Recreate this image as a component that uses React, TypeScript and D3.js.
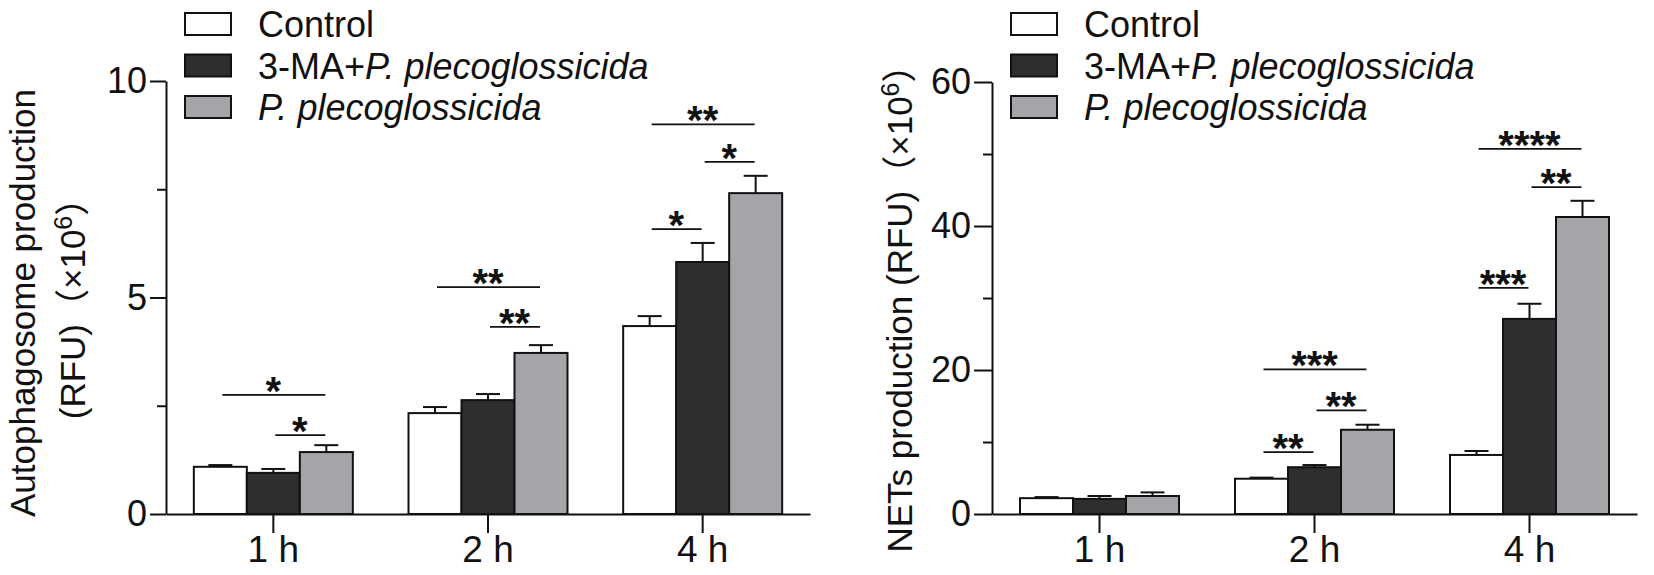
import React, {useRef, useEffect} from 'react'
import * as d3 from 'd3'

// categories and series
const timePoints = ['1 h', '2 h', '4 h']
const seriesNames = ['Control', '3-MA+P. plecoglossicida', 'P. plecoglossicida']

// Autophagosome production (RFU, x10^6), per series across time points
const autoControl = [1.09, 2.33, 4.34]
const autoMA = [0.95, 2.63, 5.82]
const autoPP = [1.43, 3.72, 7.41]
const autoControlErr = [0.04, 0.14, 0.23]
const autoMAErr = [0.09, 0.14, 0.44]
const autoPPErr = [0.16, 0.18, 0.4]

// NETs production (RFU, x10^6)
const netsControl = [2.2, 4.9, 8.2]
const netsMA = [2.1, 6.5, 27.1]
const netsPP = [2.5, 11.7, 41.25]
const netsControlErr = [0.15, 0.15, 0.55]
const netsMAErr = [0.4, 0.3, 2.1]
const netsPPErr = [0.5, 0.7, 2.25]

// significance brackets: [time index, series from, series to, level, label]
const autoSig: [number, number, number, number, string][] = [
  [0, 0, 2, 2.75, '*'],
  [0, 1, 2, 1.82, '*'],
  [1, 0, 2, 5.24, '**'],
  [1, 1, 2, 4.32, '**'],
  [2, 0, 2, 9.0, '**'],
  [2, 1, 2, 8.13, '*'],
  [2, 0, 1, 6.58, '*'],
]
const netsSig: [number, number, number, number, string][] = [
  [1, 0, 2, 20.1, '***'],
  [1, 1, 2, 14.4, '**'],
  [1, 0, 1, 8.6, '**'],
  [2, 0, 2, 50.7, '****'],
  [2, 1, 2, 45.4, '**'],
  [2, 0, 1, 31.4, '***'],
]

const autoTicks = [0, 5, 10]
const autoMinor = [2.5, 7.5]
const netsTicks = [0, 20, 40, 60]
const netsMinor = [10, 30, 50]

const FONT = "'Liberation Sans', Arial, 'Noto Sans CJK SC', sans-serif"
const fills = ['#ffffff', '#2e2e2e', '#a5a5a9']

function drawPanel(svg: any, o: any) {
  const g = svg.append('g')
  const x = d3.scaleBand().domain(timePoints).range([o.x0, o.x1]).paddingInner(0).paddingOuter(0)
  const y = d3.scaleLinear().domain(o.domain).range([o.yBottom, o.yTop])
  const barW = 53
  const inner = d3.scaleBand().domain(seriesNames).range([-barW * 1.5, barW * 1.5])
  const cx = (t: number, s: number) =>
    (x(timePoints[t]) as number) + x.bandwidth() / 2 + (inner(seriesNames[s]) as number) + barW / 2

  // bars
  o.means.forEach((vals: number[], s: number) => {
    vals.forEach((v, t) => {
      const left = cx(t, s) - barW / 2
      g.append('rect')
        .attr('x', left)
        .attr('y', y(v))
        .attr('width', barW)
        .attr('height', y(0) - y(v))
        .attr('fill', fills[s])
        .attr('stroke', '#111')
        .attr('stroke-width', 2)
      // error bar (upper only)
      const top = y(v + o.errs[s][t])
      g.append('line')
        .attr('x1', cx(t, s)).attr('x2', cx(t, s))
        .attr('y1', y(v)).attr('y2', top)
        .attr('stroke', '#111').attr('stroke-width', 2)
      g.append('line')
        .attr('x1', cx(t, s) - 12).attr('x2', cx(t, s) + 12)
        .attr('y1', top).attr('y2', top)
        .attr('stroke', '#111').attr('stroke-width', 2)
    })
  })

  // y axis
  const yAxis = g.append('g')
    .attr('transform', `translate(${o.x0},0)`)
    .call(d3.axisLeft(y).tickValues(o.ticks).tickSize(o.tickLen).tickSizeOuter(0).tickPadding(3))
  yAxis.selectAll('text').attr('font-size', 36).attr('font-family', FONT).attr('fill', '#111')
  g.append('g')
    .attr('transform', `translate(${o.x0},0)`)
    .call(d3.axisLeft(y).tickValues(o.minor).tickSize(9).tickFormat(() => ''))
    .select('.domain').remove()

  // x axis
  const xAxis = g.append('g')
    .attr('transform', `translate(0,${o.yBottom})`)
    .call(d3.axisBottom(x).tickSize(19).tickSizeOuter(0).tickPadding(3))
  xAxis.selectAll('text').attr('font-size', 37).attr('font-family', FONT).attr('fill', '#111')

  g.selectAll('.domain, .tick line').attr('stroke', '#111').attr('stroke-width', 2)

  // significance brackets
  o.sigs.forEach(([t, a, b, lvl, lab]: any) => {
    const ly = y(lvl)
    g.append('line')
      .attr('x1', cx(t, a) + 2).attr('x2', cx(t, b) - 1)
      .attr('y1', ly).attr('y2', ly)
      .attr('stroke', '#111').attr('stroke-width', 1.8)
    g.append('text')
      .attr('x', (cx(t, a) + cx(t, b)) / 2)
      .attr('y', ly + 10)
      .attr('text-anchor', 'middle')
      .attr('font-family', FONT)
      .attr('font-size', 40)
      .attr('font-weight', 'bold')
      .attr('fill', '#111')
      .text(lab)
  })

  // legend
  const lg = g.append('g').attr('transform', `translate(${o.x0 + 19},0)`)
  seriesNames.forEach((name, i) => {
    const rowTop = 13 + i * 41.5
    lg.append('rect')
      .attr('x', 0).attr('y', rowTop)
      .attr('width', 46).attr('height', 22)
      .attr('fill', fills[i]).attr('stroke', '#111').attr('stroke-width', 2)
    const tx = lg.append('text')
      .attr('x', 73).attr('y', rowTop + 24)
      .attr('font-family', FONT).attr('font-size', 36).attr('fill', '#111')
    if (name.startsWith('3-MA+')) {
      tx.append('tspan').text('3-MA+')
      tx.append('tspan').attr('font-style', 'italic').text(name.slice(5))
    } else if (name.startsWith('P.')) {
      tx.append('tspan').attr('font-style', 'italic').text(name)
    } else {
      tx.text(name)
    }
  })

  // y title
  o.titles.forEach((tl: any) => {
    const t = g.append('text')
      .attr('transform', `translate(${tl.x},${tl.y}) rotate(-90)`)
      .attr('text-anchor', 'middle')
      .attr('font-family', FONT)
      .attr('font-size', 35)
      .attr('fill', '#111')
    t.append('tspan').text(tl.main)
    if (tl.sup) {
      t.append('tspan').text('（×10')
      t.append('tspan').attr('font-size', 25).attr('dy', -13).text('6')
      t.append('tspan').attr('dy', 13).text('）')
    }
  })
}

export default function App() {
  const ref: any = useRef<SVGSVGElement>(null)
  useEffect(() => {
    const svg = d3.select(ref.current)
    svg.selectAll('*').remove()
    drawPanel(svg, {
      x0: 166, x1: 810, yBottom: 514, yTop: 81,
      domain: [0, 10], ticks: autoTicks, minor: autoMinor, tickLen: 16,
      means: [autoControl, autoMA, autoPP],
      errs: [autoControlErr, autoMAErr, autoPPErr],
      sigs: autoSig,
      titles: [
        {x: 35, y: 303, main: 'Autophagosome production'},
        {x: 85, y: 300, main: '(RFU)', sup: true},
      ],
    })
    drawPanel(svg, {
      x0: 992, x1: 1637, yBottom: 514, yTop: 82,
      domain: [0, 60], ticks: netsTicks, minor: netsMinor, tickLen: 18,
      means: [netsControl, netsMA, netsPP],
      errs: [netsControlErr, netsMAErr, netsPPErr],
      sigs: netsSig,
      titles: [{x: 912, y: 300, main: 'NETs production (RFU)', sup: true}],
    })
  }, [])

  return (
    <svg
      ref={ref}
      width={1654}
      height={575}
      style={{position: 'absolute', left: 0, top: 0, background: '#fff'}}
    />
  )
}
